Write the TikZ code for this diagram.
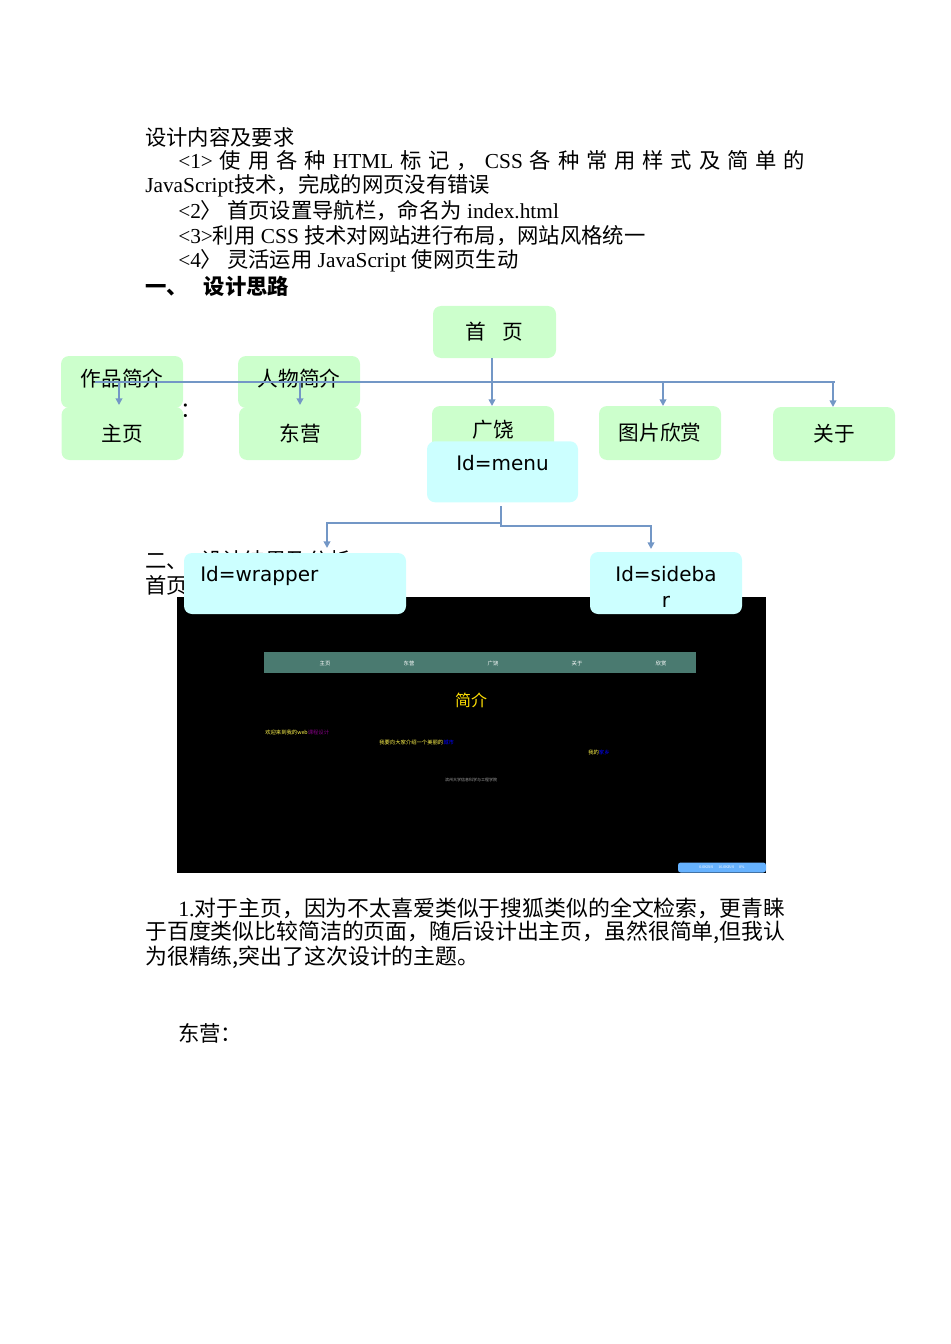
\documentclass[tikz,border=0pt]{standalone}
\usepackage{fontspec}
\setmainfont{Liberation Serif}
\newfontfamily\cjk{Noto Sans CJK SC}
\newfontfamily\dv{DejaVu Sans}
\usetikzlibrary{arrows.meta}
\definecolor{gbox}{HTML}{CCFFCC}
\definecolor{cbox}{HTML}{CCFFFF}
\definecolor{ln}{HTML}{7397C6}
\definecolor{nav}{HTML}{4A7A70}
\tikzset{
 body/.style={anchor=west,inner sep=0pt,font=\fontsize{16}{18}\selectfont},
 para/.style={anchor=west,inner sep=0pt,font=\fontsize{16.4}{18}\selectfont},
 gb/.style={fill=gbox,rounded corners=6pt,inner sep=0pt,font=\cjk\fontsize{15.5}{18}\selectfont},
 cb/.style={fill=cbox,rounded corners=6pt,inner sep=0pt,font=\dv\fontsize{15}{18}\selectfont},
 con/.style={draw=ln,line width=1.3pt},
 arr/.style={con,-{Triangle[length=5pt,width=5pt]}},
 st/.style={inner sep=0pt,font=\cjk\fontsize{4}{5}\selectfont}
}
\begin{document}
\begin{tikzpicture}[x=0.75pt,y=-0.75pt]
\useasboundingbox (0,0) rectangle (950,1344);
% body text
\node[body] (t1) at (145,137) {\cjk 设计内容及要求};
\node[body] (t2) at (178,161) {\hbox to 470.25pt{<1>\hfil{\cjk 使}\hfil{\cjk 用}\hfil{\cjk 各}\hfil{\cjk 种}\hfil HTML\hfil{\cjk 标}\hfil{\cjk 记}\hfil{\cjk ，}\hfil CSS\hfil{\cjk 各}\hfil{\cjk 种}\hfil{\cjk 常}\hfil{\cjk 用}\hfil{\cjk 样}\hfil{\cjk 式}\hfil{\cjk 及}\hfil{\cjk 简}\hfil{\cjk 单}\hfil{\cjk 的}}};
\node[body] (t3) at (145,186) {JavaScript{\cjk 技术，完成的网页没有错误}};
\node[body] (t4) at (178,211) {<2{\cjk 〉 首页设置导航栏，命名为} index.html};
\node[body] (t5) at (178,236) {<3>{\cjk 利用} CSS {\cjk 技术对网站进行布局，网站风格统一}};
\node[body] (t6) at (178,261) {<4{\cjk 〉 灵活运用} JavaScript {\cjk 使网页生动}};
\node[body] (t7) at (145,286) {\cjk\bfseries 一、\hspace{12pt}设计思路};
\node[body] (t8) at (180,411) {\cjk ：};
\node[body] (t9) at (145,560) {\cjk 二、\hspace{10pt}设计结果及分析};
\node[body] (t10) at (145,585) {\cjk 首页};
\node[para] (p1) at (178,908) {1.{\cjk 对于主页，因为不太喜爱类似于搜狐类似的全文检索，更青睐}};
\node[para] (p2) at (145,932) {\cjk 于百度类似比较简洁的页面，随后设计出主页，虽然很简单,但我认};
\node[para] (p3) at (145,957) {\cjk 为很精练,突出了这次设计的主题。};
\node[body] (d) at (178,1033) {\cjk 东营：};
% screenshot
\fill (177,597) rectangle (766,873);
\node[fill=nav,minimum width=432*0.75pt,minimum height=21*0.75pt,inner sep=0pt] (navbar) at (480,662.5) {};
\foreach \x/\t [count=\i] in {325/主页,409/东营,493/广饶,577/关于,661/欣赏}
  \node[st,text=white] (n\i) at (\x,663) {\t};
\node[inner sep=0pt,text=yellow!80!orange,font=\cjk\fontsize{12}{14}\selectfont] (jj) at (471,700) {简介};
\node[st,text=yellow!70!white,anchor=west] (s1) at (265,732) {欢迎来到我的web\textcolor{violet}{课程设计}};
\node[st,text=yellow!70!white,anchor=west] (s2) at (379,742) {我要向大家介绍一个美丽的\textcolor{blue}{城市}};
\node[st,text=yellow!70!white,anchor=west] (s3) at (588,752) {我的\textcolor{blue}{家乡}};
\node[st,text=gray!70,font=\cjk\fontsize{3}{4}\selectfont] (s4) at (471,780) {滨州大学信息科学与工程学院};
\node[fill=blue!50!cyan!60,rounded corners=2pt,minimum width=88*0.75pt,minimum height=10*0.75pt,inner sep=0pt,font=\fontsize{3}{3}\selectfont,text=white] (bar) at (722,867.5) {0.0KB/S \quad 16.0KB/S \quad 0\%};
% green boxes
\node[gb,minimum width=122*0.75pt,minimum height=53*0.75pt] (sy) at (122.5,433.5) {主页};
\node[gb,minimum width=122*0.75pt,minimum height=53*0.75pt] (dy) at (300,433.5) {东营};
\node[gb,minimum width=122*0.75pt,minimum height=52*0.75pt] (zp) at (122,382) {};
\node[gb,minimum width=122*0.75pt,minimum height=52*0.75pt] (rw) at (299,382) {};
\node[gb] at (122,379) {作品简介};
\node[gb] at (299,379) {人物简介};
\node[gb,minimum width=123*0.75pt,minimum height=52*0.75pt] (home) at (494.5,332) {首\hspace{12pt}页};
\node[gb,minimum width=122*0.75pt,minimum height=54*0.75pt] (gr) at (493,433) {};
\node[gb] at (493,430) {广饶};
\node[gb,minimum width=122*0.75pt,minimum height=54*0.75pt] (tp) at (660,433) {图片欣赏};
\node[gb,minimum width=122*0.75pt,minimum height=54*0.75pt] (gy) at (834,434) {关于};
% connectors
\coordinate (hl) at (95,382);
\coordinate (hr) at (835,382);
\draw[con] (hl) -- (hr);
\draw[arr] (492,358) -- (492,406);
\draw[arr] (119,382) -- (119,405);
\draw[arr] (300,382) -- (300,405);
\draw[arr] (663,382) -- (663,406);
\draw[arr] (833,382) -- (833,407);
% cyan boxes
\node[cb,minimum width=151*0.75pt,minimum height=61*0.75pt,anchor=north] (menu) at (502.5,441) {};
\node[cb] at (502.5,463) {Id=menu};
\node[cb,minimum width=222*0.75pt,minimum height=61*0.75pt] (wr) at (295,583.5) {};
\node[cb,anchor=west] at (200,576) {Id=wrapper};
\node[cb,minimum width=152*0.75pt,minimum height=62*0.75pt] (sb) at (666,583) {};
\node[cb,align=center,font=\dv\fontsize{15}{19}\selectfont] at (666,587) {Id=sideba\\r};
\coordinate (mj) at (501,523);
\draw[con] (501,506) -- (mj);
\draw[arr] (mj) -- (327,523) -- (327,548);
\draw[arr] (501,523) -- (501,526) -- (651,526) -- (651,549);
\end{tikzpicture}
\end{document}
